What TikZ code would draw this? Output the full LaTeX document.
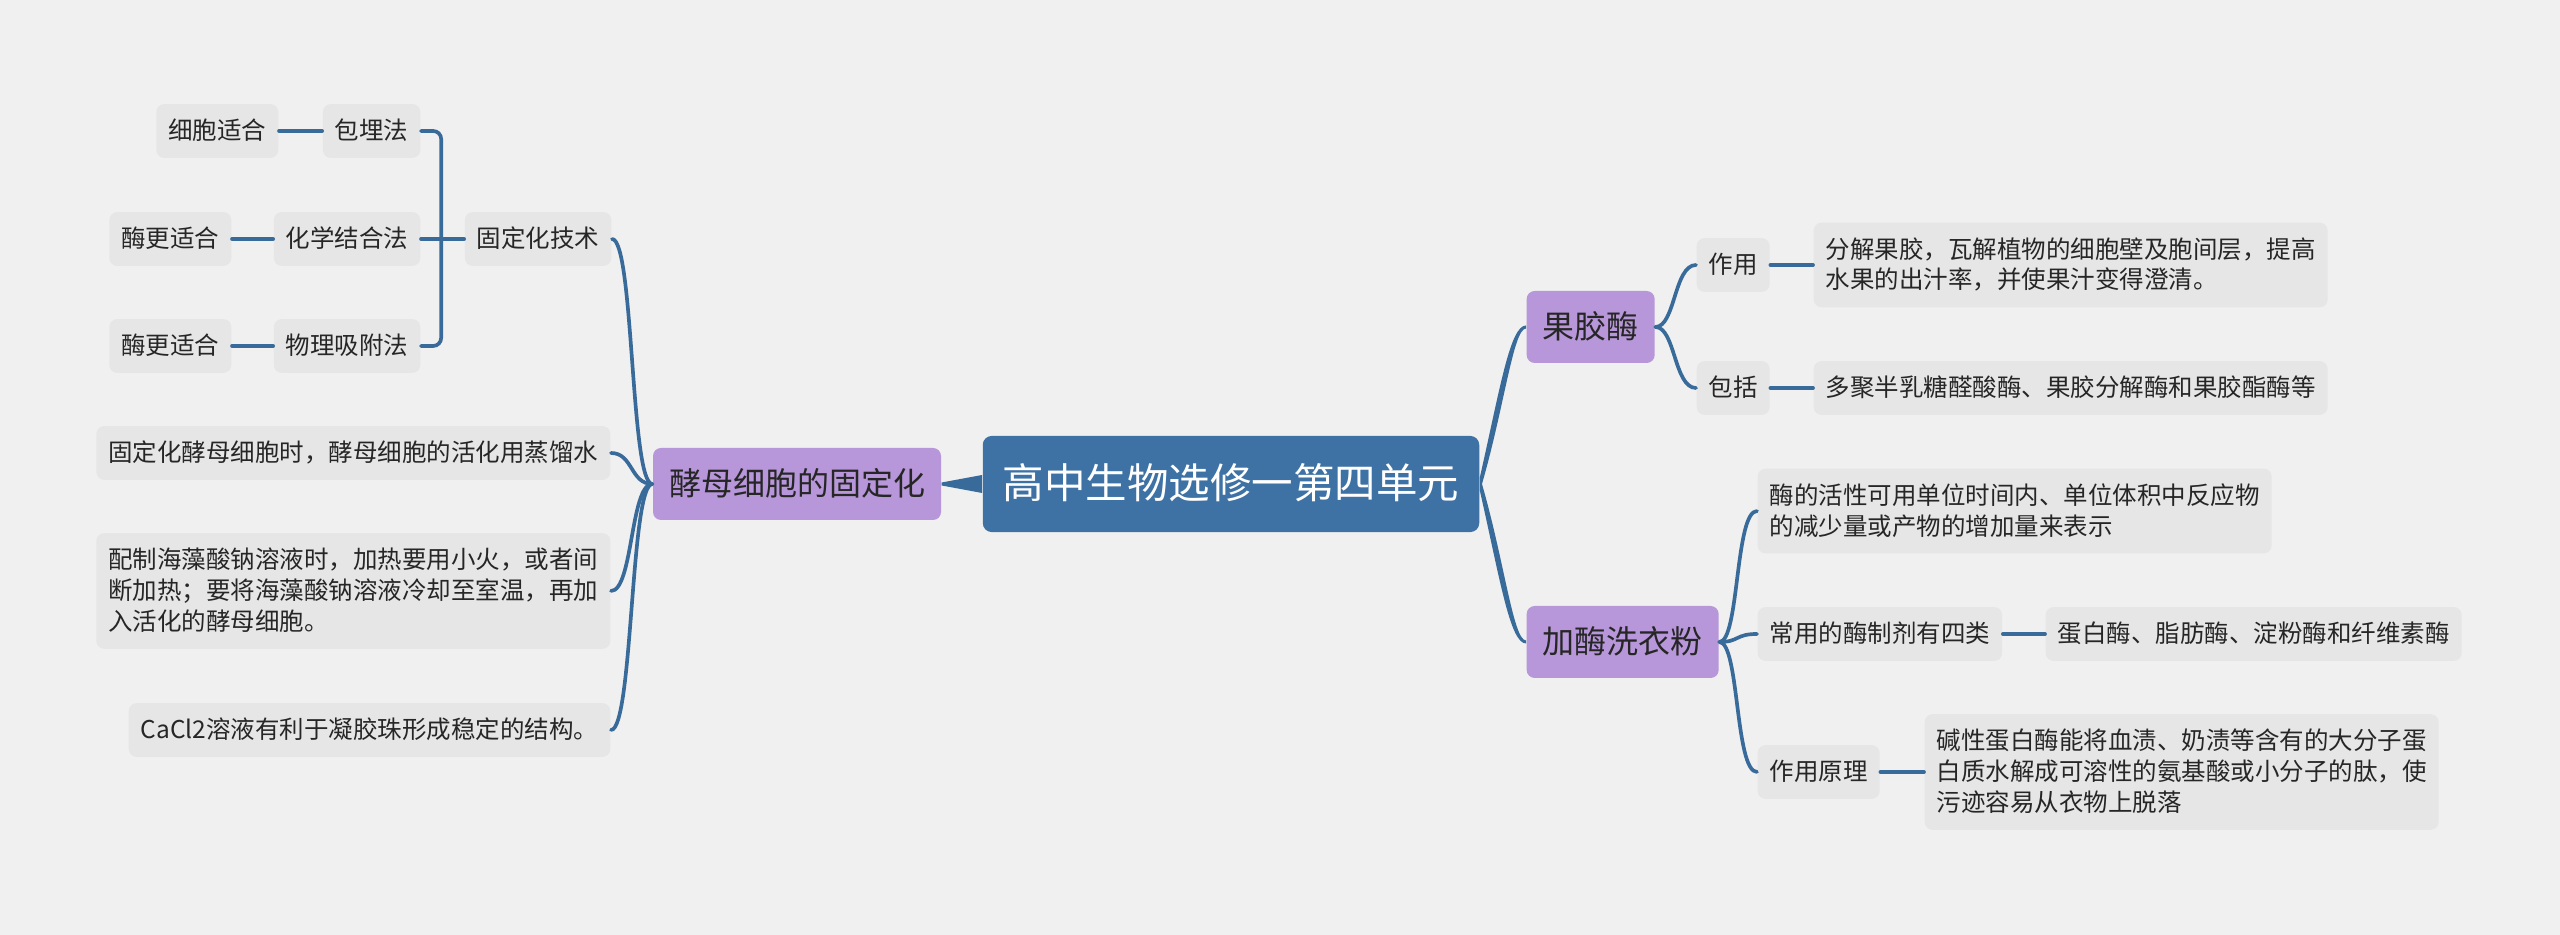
\documentclass[tikz,border=0pt]{standalone}
\usepackage{fontspec}
\setmainfont{Noto Sans CJK SC}
\usetikzlibrary{positioning}

\definecolor{paper}{HTML}{F0F0F0}
\definecolor{leafgray}{HTML}{E6E6E6}
\definecolor{topicpurple}{HTML}{B797D9}
\definecolor{rootblue}{HTML}{3E72A4}
\definecolor{lineblue}{HTML}{386A9A}
\definecolor{ink}{HTML}{262626}
\newcommand{\lnstrut}{\rule[-0.15em]{0pt}{1em}}

\begin{document}
\begin{tikzpicture}[x=0.3pt, y=-0.3pt,
                    c/.style={line width=1.1pt, draw=lineblue, line cap=round},
                    branch/.style={fill=lineblue},
                    leaf/.style={fill=leafgray, text=ink, rounded corners=2.4pt,
                                 inner xsep=3.6pt, inner ysep=4.4pt,
                                 font=\fontsize{7.35}{9.3}\selectfont,
                                 execute at begin node=\lnstrut, execute at end node=\lnstrut},
                    para/.style={leaf, align=left},
                    topic/.style={fill=topicpurple, text=ink, rounded corners=2.4pt,
                                  inner xsep=4.8pt, inner ysep=6pt,
                                  font=\fontsize{9.6}{11}\selectfont, execute at begin node=\lnstrut},
                    centre/.style={fill=rootblue, text=white, rounded corners=2.7pt,
                                   inner xsep=6pt, inner ysep=8.2pt,
                                   font=\fontsize{12.45}{14}\selectfont, execute at begin node=\lnstrut}]
  \fill[paper] (0,0) rectangle (2560,935);
  \useasboundingbox (0,0) rectangle (2560,935);

  \node[centre] (root) at (1231,484) {高中生物选修一第四单元};
  \node[topic] (yeast) at (797,484) {酵母细胞的固定化};
  \node[topic, anchor=west] (pectin) at (1526,327) {果胶酶};
  \node[topic, anchor=west] (powder) at (1526,642) {加酶洗衣粉};

  % left side
  \node[leaf, anchor=east] (tech) at (612,239) {固定化技术};
  \node[leaf, anchor=east] (embed) at (421,131) {包埋法};
  \node[leaf, anchor=east] (bond) at (421,239) {化学结合法};
  \node[leaf, anchor=east] (adsorb) at (421,346) {物理吸附法};
  \node[leaf, anchor=east] (cellfit) at (279,131) {细胞适合};
  \node[leaf, anchor=east] (enzfitA) at (232,239) {酶更适合};
  \node[leaf, anchor=east] (enzfitB) at (232,346) {酶更适合};
  \node[leaf, anchor=east] (activate) at (611,453) {固定化酵母细胞时，酵母细胞的活化用蒸馏水};
  \node[para, anchor=east] (alginate) at (611,591) {配制海藻酸钠溶液时，加热要用小火，或者间\\断加热；要将海藻酸钠溶液冷却至室温，再加\\入活化的酵母细胞。};
  \node[leaf, anchor=east] (cacl) at (611,730) {CaCl2溶液有利于凝胶珠形成稳定的结构。};

  % right side
  \node[leaf, anchor=west] (use) at (1696,265) {作用};
  \node[para, anchor=west] (usetext) at (1813,265) {分解果胶，瓦解植物的细胞壁及胞间层，提高\\水果的出汁率，并使果汁变得澄清。};
  \node[leaf, anchor=west] (incl) at (1696,388) {包括};
  \node[leaf, anchor=west] (incltext) at (1813,388) {多聚半乳糖醛酸酶、果胶分解酶和果胶酯酶等};
  \node[para, anchor=west] (activity) at (1757,511) {酶的活性可用单位时间内、单位体积中反应物\\的减少量或产物的增加量来表示};
  \node[leaf, anchor=west] (kinds) at (1757,634) {常用的酶制剂有四类};
  \node[leaf, anchor=west] (kindlist) at (2045,634) {蛋白酶、脂肪酶、淀粉酶和纤维素酶};
  \node[leaf, anchor=west] (mech) at (1757,772) {作用原理};
  \node[para, anchor=west] (mechtext) at (1924,772) {碱性蛋白酶能将血渍、奶渍等含有的大分子蛋\\白质水解成可溶性的氨基酸或小分子的肽，使\\污迹容易从衣物上脱落};

  % tapered main branches
  \fill[branch] ([yshift=2.7pt]root.west) -- ([yshift=0.45pt]yeast.east)
    -- ([yshift=-0.45pt]yeast.east) -- ([yshift=-2.7pt]root.west) -- cycle;
  \fill[branch] ([yshift=2.1pt]root.east) .. controls +(20,-88) and +(-16,0) .. ([yshift=0.45pt]pectin.west)
    -- ([yshift=-0.45pt]pectin.west) .. controls +(-13,0) and +(24,-80) .. ([yshift=-2.1pt]root.east) -- cycle;
  \fill[branch] ([yshift=-2.1pt]root.east) .. controls +(20,88) and +(-16,0) .. ([yshift=-0.45pt]powder.west)
    -- ([yshift=0.45pt]powder.west) .. controls +(-13,0) and +(24,80) .. ([yshift=2.1pt]root.east) -- cycle;

  \foreach \t in {tech,activate,alginate,cacl}
    \draw[c] (yeast.west) .. controls +(-22,0) and +(22,0) .. (\t.east);
  \foreach \t in {use,incl}
    \draw[c] (pectin.east) .. controls +(20,0) and +(-22,0) .. (\t.west);
  \foreach \t in {activity,kinds,mech}
    \draw[c] (powder.east) .. controls +(20,0) and +(-22,0) .. (\t.west);

  \coordinate (fork) at ([xshift=-6.9pt]tech.west);
  \draw[c, rounded corners=2.4pt] (embed.east) -| (fork) |- (adsorb.east);
  \draw[c] (bond.east) -- (tech.west);
  \draw[c] (cellfit.east) -- (embed.west);
  \draw[c] (enzfitA.east) -- (bond.west);
  \draw[c] (enzfitB.east) -- (adsorb.west);
  \draw[c] (use.east) -- (usetext.west);
  \draw[c] (incl.east) -- (incltext.west);
  \draw[c] (kinds.east) -- (kindlist.west);
  \draw[c] (mech.east) -- (mechtext.west);
\end{tikzpicture}
\end{document}
